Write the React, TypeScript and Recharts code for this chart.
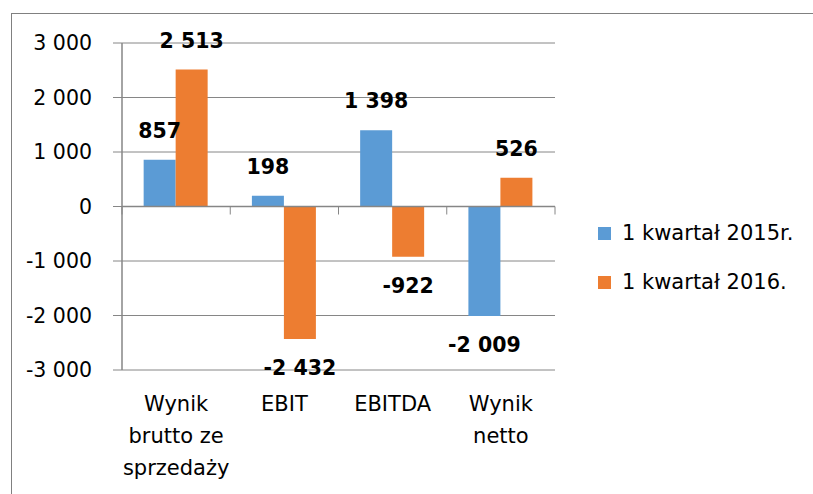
import React from 'react';
import { BarChart, Bar, XAxis, YAxis, CartesianGrid, ReferenceLine, LabelList } from 'recharts';

const categories = ['Wynik brutto ze sprzedaży', 'EBIT', 'EBITDA', 'Wynik netto'];
const seriesNames = ['1 kwartał 2015r.', '1 kwartał 2016.'];
const values2015 = [857, 198, 1398, -2009];
const values2016 = [2513, -2432, -922, 526];
const yTicks = [-3000, -2000, -1000, 0, 1000, 2000, 3000];
const seriesColors = ['#5B9BD5', '#ED7D31'];

const data = categories.map((c, i) => ({ category: c, s2015: values2015[i], s2016: values2016[i] }));

const FONT = '"DejaVu Sans", sans-serif';
const AXIS_COLOR = '#868686';
const CAT_FONT_SIZE = 21;

const fmt = (v: number) => {
  const s = String(Math.abs(v)).replace(/\B(?=(\d{3})+(?!\d))/g, ' ');
  return (v < 0 ? '-' : '') + s;
};

let measureCtx: CanvasRenderingContext2D | null = null;
const measure = (s: string, fontSize: number) => {
  if (!measureCtx) {
    measureCtx = document.createElement('canvas').getContext('2d');
  }
  if (!measureCtx) return s.length * fontSize * 0.6;
  measureCtx.font = `${fontSize}px "DejaVu Sans"`;
  return measureCtx.measureText(s).width;
};

const wrapWords = (text: string, maxWidth: number, fontSize: number) => {
  const words = text.split(' ');
  const lines: string[] = [];
  let cur = '';
  words.forEach((w) => {
    const cand = cur ? cur + ' ' + w : w;
    if (cur && measure(cand, fontSize) > maxWidth) {
      lines.push(cur);
      cur = w;
    } else {
      cur = cand;
    }
  });
  if (cur) lines.push(cur);
  return lines;
};

const ValueLabel = (props: any) => {
  const x = Number(props.x);
  const y = Number(props.y);
  const width = Number(props.width);
  const height = Number(props.height);
  const value = Number(props.value);
  const top = Math.min(y, y + height);
  const bottom = Math.max(y, y + height);
  const cy = value >= 0 ? top - 29 : bottom + 29;
  return (
    <text
      x={x + width / 2}
      y={cy}
      textAnchor="middle"
      dominantBaseline="central"
      fontFamily={FONT}
      fontWeight="bold"
      fontSize={20.5}
      fill="#000"
    >
      {fmt(value)}
    </text>
  );
};

const CategoryTick = (props: any) => {
  const { x, y, payload } = props;
  const lines = wrapWords(String(payload.value), 112, CAT_FONT_SIZE);
  return (
    <text x={x} y={y + 41} textAnchor="middle" fontSize={CAT_FONT_SIZE} fontFamily={FONT} fill="#000">
      {lines.map((l, i) => (
        <tspan key={i} x={x} dy={i === 0 ? 0 : 32}>
          {l}
        </tspan>
      ))}
    </text>
  );
};

const ZeroAxis = (props: any) => {
  const x1 = Number(props.x1);
  const x2 = Number(props.x2);
  const y1 = Number(props.y1);
  const n = categories.length;
  const step = (x2 - x1) / n;
  return (
    <g>
      <line x1={x1} y1={y1} x2={x2} y2={y1} stroke={AXIS_COLOR} strokeWidth={1.5} />
      {Array.from({ length: n + 1 }, (_, i) => (
        <line
          key={i}
          x1={x1 + i * step}
          x2={x1 + i * step}
          y1={y1}
          y2={y1 + 8}
          stroke={AXIS_COLOR}
          strokeWidth={1}
        />
      ))}
    </g>
  );
};

export default function App() {
  return (
    <div style={{ position: 'absolute', left: 0, top: 0, width: 813, height: 494, background: '#fff', overflow: 'hidden' }}>
      <div
        style={{
          position: 'absolute',
          left: 11,
          top: 13,
          width: 820,
          height: 500,
          borderLeft: '1px solid #808080',
          borderTop: '1px solid #808080',
        }}
      />
      <div style={{ position: 'absolute', left: 0, top: 0 }}>
        <BarChart
          width={813}
          height={494}
          data={data}
          margin={{ top: 43, right: 258, bottom: 0, left: 0 }}
          barCategoryGap="20%"
          barGap={0}
        >
          <CartesianGrid vertical={false} stroke={AXIS_COLOR} strokeWidth={1} />
          <XAxis
            dataKey="category"
            axisLine={false}
            tickLine={false}
            tickSize={0}
            tickMargin={0}
            height={124}
            interval={0}
            tick={<CategoryTick />}
          />
          <YAxis
            domain={[-3000, 3000]}
            ticks={yTicks}
            interval={0}
            tickFormatter={fmt}
            width={122}
            tickSize={9}
            tickMargin={21}
            axisLine={{ stroke: AXIS_COLOR, strokeWidth: 1.5 }}
            tickLine={{ stroke: AXIS_COLOR }}
            tick={{ fill: '#000', fontSize: 20.5, fontFamily: FONT }}
          />
          <Bar dataKey="s2015" name={seriesNames[0]} fill={seriesColors[0]} isAnimationActive={false}>
            <LabelList dataKey="s2015" content={<ValueLabel />} />
          </Bar>
          <Bar dataKey="s2016" name={seriesNames[1]} fill={seriesColors[1]} isAnimationActive={false}>
            <LabelList dataKey="s2016" content={<ValueLabel />} />
          </Bar>
          <ReferenceLine y={0} shape={<ZeroAxis />} />
        </BarChart>
      </div>
      {seriesNames.map((name, i) => (
        <div
          key={name}
          style={{
            position: 'absolute',
            left: 598,
            top: 220 + i * 49,
            height: 26,
            display: 'flex',
            alignItems: 'center',
            fontFamily: FONT,
            fontSize: 21,
            color: '#000',
            whiteSpace: 'nowrap',
          }}
        >
          <span style={{ display: 'inline-block', width: 13, height: 13, background: seriesColors[i], marginRight: 11 }} />
          <span>{name}</span>
        </div>
      ))}
    </div>
  );
}
